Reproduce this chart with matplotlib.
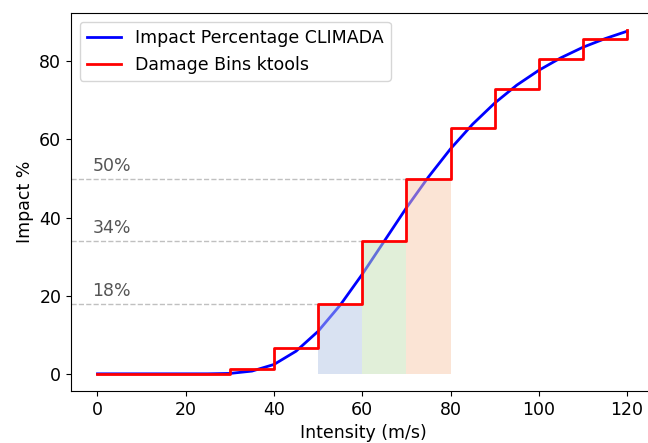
import matplotlib
matplotlib.use('Agg')
import matplotlib.pyplot as plt
import numpy as np

# impact curve (intensity in m/s, impact in %)
intensity = [0, 5, 10, 15, 20, 25, 30, 35, 40, 45, 50, 55, 60, 65, 70,
             75, 80, 85, 90, 95, 100, 105, 110, 115, 120]
impact_pct = [0, 0, 0, 0, 0, 0, 0.1, 0.7, 2.4, 5.8, 10.9, 17.6, 25.5, 34.0, 42.5,
              50.4, 57.6, 63.9, 69.3, 73.9, 77.7, 80.9, 83.6, 85.8, 87.7]

# ktools damage bins (left edges + final point)
bin_edges = [0, 10, 20, 30, 40, 50, 60, 70, 80, 90, 100, 110, 120]
bin_damage = [0, 0, 0, 1.3, 6.5, 18, 34, 50, 63, 73, 80.5, 85.7, 87.9]

# highlighted bins
hl_start = [50, 60, 70]
hl_end = [60, 70, 80]
hl_level = [18, 34, 50]
hl_colors = ['#b4c7e7', '#c5e0b4', '#f8cbad']

fs = 12.5

fig = plt.figure(figsize=(6.48, 4.43), dpi=100)
ax = fig.add_axes([0.1096, 0.1174, 0.901, 0.8526])

ax.plot(intensity, impact_pct, color='blue', lw=2, label='Impact Percentage CLIMADA')

for x0, x1, lvl, c in zip(hl_start, hl_end, hl_level, hl_colors):
    ax.fill_between([x0, x1], 0, lvl, color=c, alpha=0.5, lw=0, zorder=2.5)

ax.plot(bin_edges, bin_damage, color='red', lw=2, drawstyle='steps-post',
        label='Damage Bins ktools', zorder=3)

ax.margins(x=0.05, y=0.05)
ax.autoscale_view()
x_left = ax.get_xlim()[0]
for x0, lvl in zip(hl_start, hl_level):
    ax.plot([x_left, x0], [lvl, lvl], color='#c0c0c0', lw=1, ls='--', zorder=1)
    ax.text(-1.2, lvl + 1.0, f'{lvl}%', color='#555555', fontsize=fs, ha='left', va='bottom')
ax.set_xlim(left=x_left)
ax.spines['right'].set_visible(False)

ax.set_xlabel('Intensity (m/s)', fontsize=fs)
ax.set_ylabel('Impact %', fontsize=fs)
ax.tick_params(labelsize=fs)
ax.legend(loc='upper left', fontsize=fs)

fig.savefig('out.png', dpi=100)
